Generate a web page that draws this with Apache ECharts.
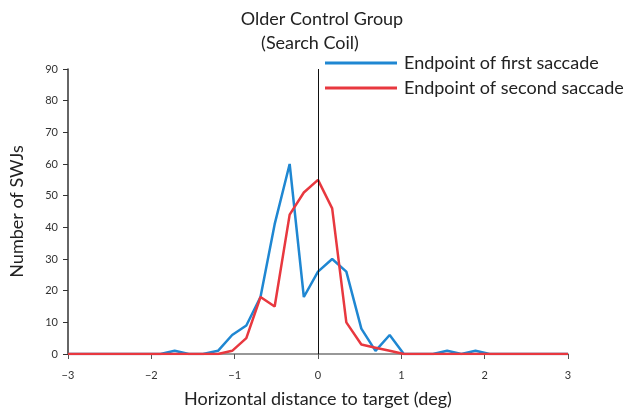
<!DOCTYPE html>
<html>
<head>
<meta charset="utf-8">
<style>
  html, body { margin: 0; padding: 0; background: #fff; }
  #chart { width: 625px; height: 413px; }
</style>
<script src="https://cdn.jsdelivr.net/npm/echarts@6/dist/echarts.min.js"></script>
</head>
<body>
<div id="chart"></div>
<script>
// bin centres (deg) and counts
const xBins = [-3, -1.89, -1.72, -1.55, -1.38, -1.2, -1.03, -0.86, -0.69, -0.52, -0.34, -0.17, 0,
  0.17, 0.34, 0.52, 0.69, 0.86, 1.03, 1.2, 1.38, 1.55, 1.72, 1.89, 2.06, 3]
const firstSaccade = [0, 0, 1, 0, 0, 1, 6, 9, 18, 41, 60, 18, 26, 30, 26, 8, 1, 6, 0, 0, 0, 1, 0, 1, 0, 0]
const secondSaccade = [0, 0, 0, 0, 0, 0, 1, 5, 18, 15, 44, 51, 55, 46, 10, 3, 2, 1, 0, 0, 0, 0, 0, 0, 0, 0]
const seriesNames = ['Endpoint of first saccade', 'Endpoint of second saccade']

const font = 'Lato, "Noto Sans", sans-serif'
const pairs = ys => xBins.map((x, i) => [x, ys[i]])

let myChart = echarts.init(document.getElementById('chart'))
myChart.setOption({
    animation: false,
    title: [
        { text: 'Older Control Group', left: 317, top: 5, textAlign: 'center',
          textStyle: { fontFamily: font, fontSize: 18, fontWeight: 'normal', color: '#222' } },
        { text: '(Search Coil)', left: 305, top: 29, textAlign: 'center',
          textStyle: { fontFamily: font, fontSize: 18, fontWeight: 'normal', color: '#222' } }
    ],
    legend: {
        orient: 'vertical',
        left: 320,
        top: 49,
        itemWidth: 72,
        itemHeight: 3,
        itemGap: 7,
        icon: 'rect',
        data: seriesNames,
        textStyle: { fontFamily: font, fontSize: 18, color: '#222', padding: [0, 0, 0, 2] }
    },
    grid: { left: 67, right: 57, top: 69, bottom: 58 },
    xAxis: {
        type: 'value',
        min: -3,
        max: 3,
        interval: 1,
        name: 'Horizontal distance to target (deg)',
        nameLocation: 'middle',
        nameGap: 36,
        nameTextStyle: { fontFamily: font, fontSize: 18, color: '#222' },
        axisLine: { onZero: false, lineStyle: { color: '#777', width: 1.5 } },
        axisTick: { show: true, length: 5, lineStyle: { color: '#555' } },
        axisLabel: { fontFamily: font, fontSize: 11, color: '#333', margin: 16,
                     formatter: v => (v < 0 ? '\u2212' + (-v) : String(v)) },
        splitLine: { show: false }
    },
    yAxis: {
        type: 'value',
        min: 0,
        max: 90,
        interval: 10,
        name: 'Number of SWJs',
        nameLocation: 'middle',
        nameGap: 42,
        nameTextStyle: { fontFamily: font, fontSize: 18, color: '#222' },
        axisLine: { show: true, onZero: false, lineStyle: { color: '#333', width: 1.5 } },
        axisTick: { show: true, length: 5, lineStyle: { color: '#333' } },
        axisLabel: { fontFamily: font, fontSize: 11, color: '#333', margin: 10 },
        splitLine: { show: false }
    },
    series: [
        {
            name: seriesNames[0],
            type: 'line',
            data: pairs(firstSaccade),
            showSymbol: false,
            symbol: 'none',
            color: '#1f87d2',
            lineStyle: { width: 2.5, color: '#1f87d2' },
            z: 3,
            markLine: {
                silent: true,
                symbol: 'none',
                label: { show: false },
                lineStyle: { color: '#111', type: 'solid', width: 1 },
                data: [{ xAxis: 0 }]
            }
        },
        {
            name: seriesNames[1],
            type: 'line',
            data: pairs(secondSaccade),
            showSymbol: false,
            symbol: 'none',
            color: '#e8383f',
            lineStyle: { width: 2.5, color: '#e8383f' },
            z: 4
        }
    ]
})
</script>
</body>
</html>
